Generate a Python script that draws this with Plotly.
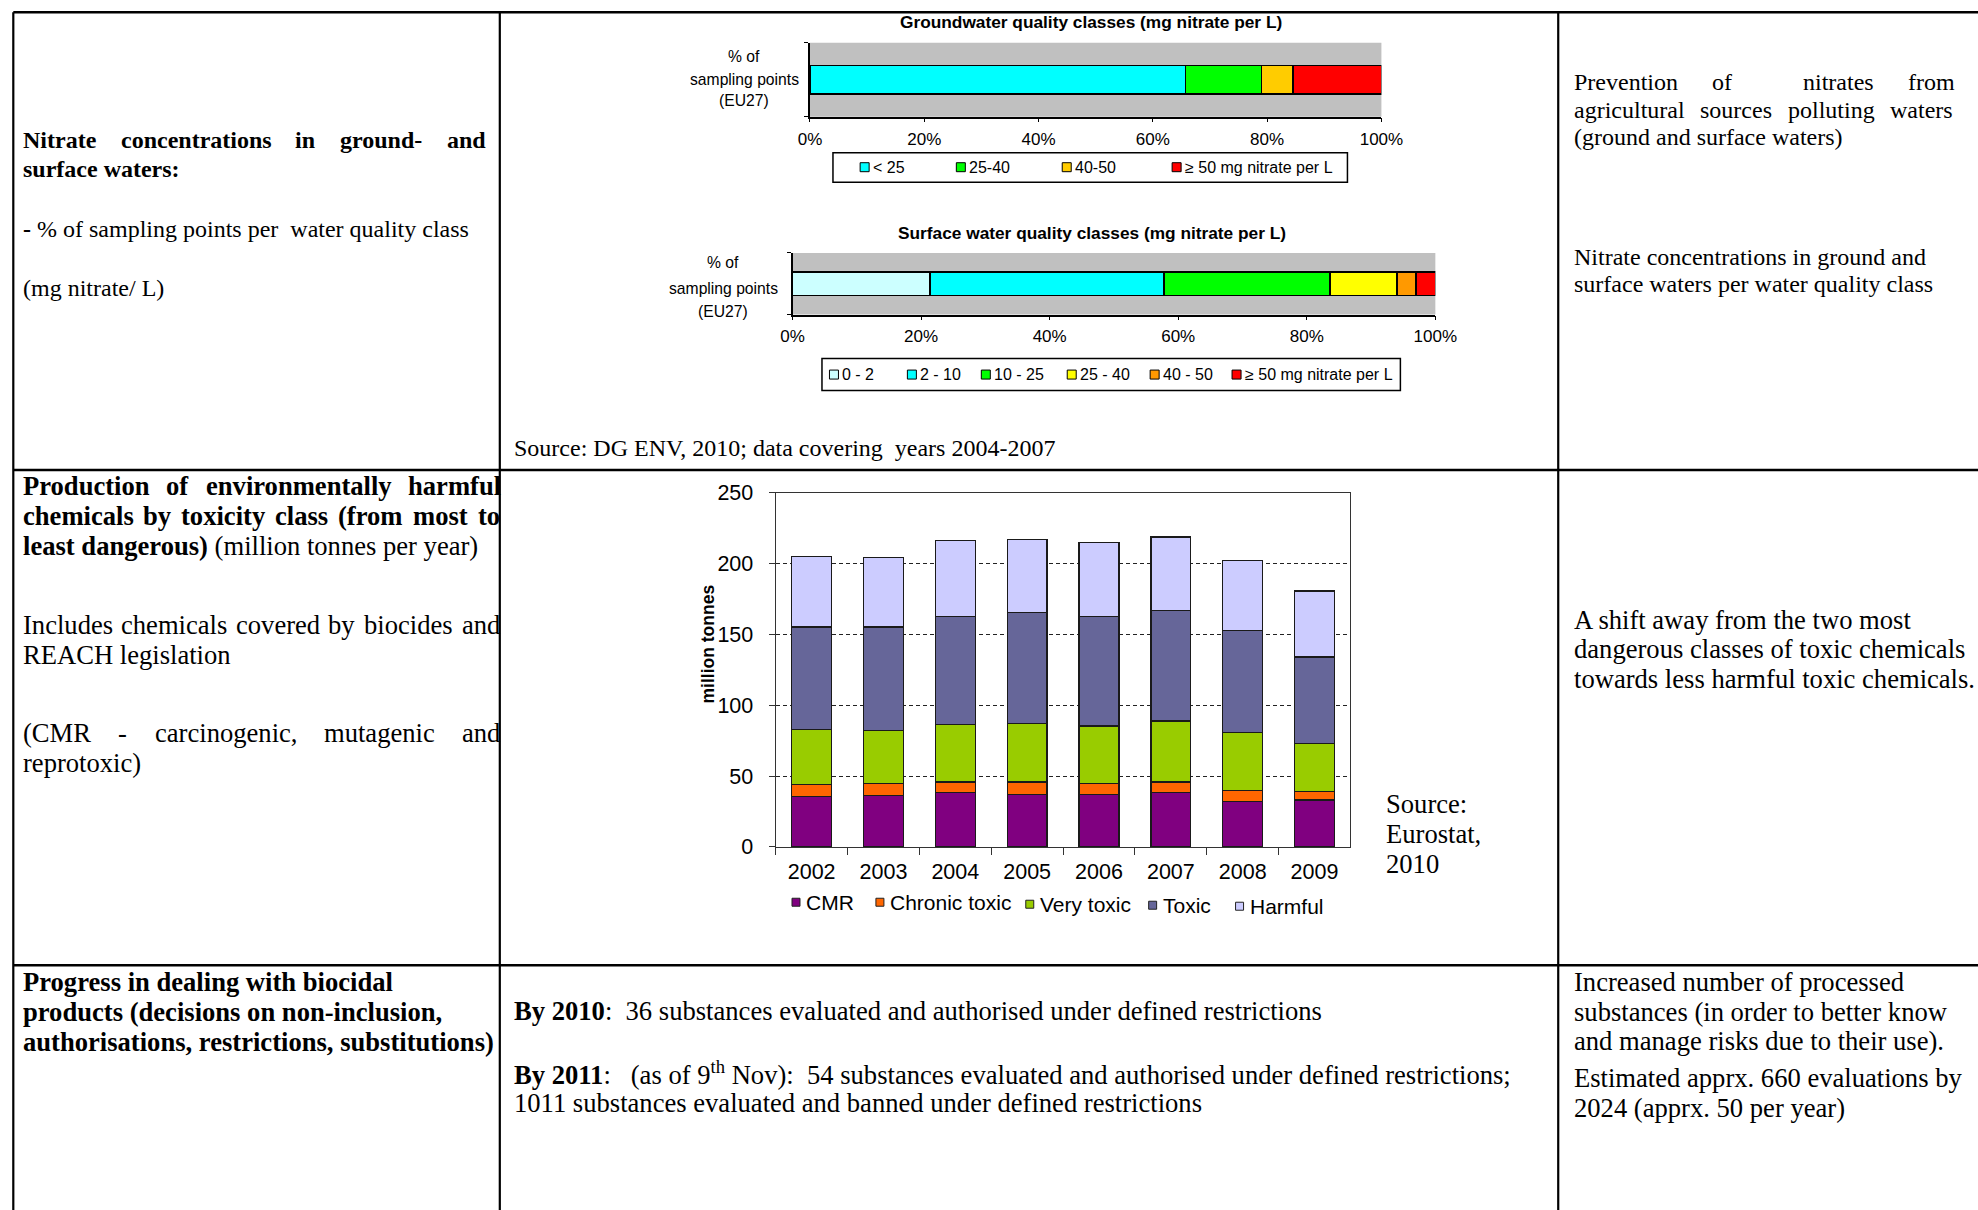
import plotly.graph_objects as go

# ---------------------------------------------------------------- data
gw_classes = ["< 25", "25-40", "40-50", "≥ 50 mg nitrate per L"]
gw_share = [65.7, 13.3, 5.5, 15.5]

sw_classes = ["0 - 2", "2 - 10", "10 - 25", "25 - 40", "40 - 50", "≥ 50 mg nitrate per L"]
sw_share = [21.4, 36.4, 25.8, 10.4, 3.0, 3.0]

pct_ticks = [0, 20, 40, 60, 80, 100]
pct_labels = ["0%", "20%", "40%", "60%", "80%", "100%"]

years = ["2002", "2003", "2004", "2005", "2006", "2007", "2008", "2009"]
tox_classes = ["CMR", "Chronic toxic", "Very toxic", "Toxic", "Harmful"]
cmr = [35.5, 36.2, 38.3, 37.2, 37.2, 38.3, 32.2, 33.2]
chronic_toxic = [8.7, 8.7, 7.6, 8.7, 7.7, 7.6, 7.5, 5.8]
very_toxic = [38.8, 37.2, 40.4, 41.4, 40.5, 43.0, 41.0, 33.9]
toxic = [72.2, 73.1, 76.4, 78.0, 77.3, 78.1, 71.9, 61.2]
harmful = [49.9, 49.2, 53.7, 51.8, 52.0, 51.7, 49.4, 46.5]
tonne_ticks = [0, 50, 100, 150, 200, 250]

# ---------------------------------------------------------------- styles
gw_colors = ["#00FFFF", "#00FF00", "#FFCC00", "#FF0000"]
sw_colors = ["#CCFFFF", "#00FFFF", "#00FF00", "#FFFF00", "#FF9900", "#FF0000"]
tox_colors = ["#800080", "#FF6600", "#99CC00", "#666699", "#CCCCFF"]

# Positions below are screen pixels of the displayed page; the figure origin
# sits slightly inside the page and is drawn at a small zoom-out.
ORIGIN_X, ORIGIN_Y = 11.2, 11.2
SCALE_X, SCALE_Y = 0.984, 0.981
W, H = 2000, 1223
SERIF = "Liberation Serif"
SANS = "Liberation Sans"
EDGE = ORIGIN_X + 1.3          # closest drawable position to the page edge


def fx(x):
    return (x - ORIGIN_X) / SCALE_X / W


def fy(y):
    return 1 - (y - ORIGIN_Y) / SCALE_Y / H


# Times metrics (1/1000 em) used to spread justified lines
ROMAN = {" ": 250, "(": 333, ")": 333, ",": 250, "-": 333, ".": 250, ":": 278, ";": 278,
         "A": 722, "C": 667, "E": 611, "H": 722, "I": 333, "M": 889, "N": 722, "P": 556,
         "R": 667, "S": 556,
         "a": 444, "b": 500, "c": 444, "d": 500, "e": 444, "f": 333, "g": 500, "h": 500,
         "i": 278, "j": 278, "k": 500, "l": 278, "m": 778, "n": 500, "o": 500, "p": 500,
         "q": 500, "r": 333, "s": 389, "t": 278, "u": 500, "v": 500, "w": 722, "x": 500,
         "y": 500, "z": 444}
BOLD = {" ": 250, "(": 333, ")": 333, ",": 250, "-": 333, ".": 250, ":": 333,
        "N": 722, "P": 611,
        "a": 500, "b": 556, "c": 444, "d": 556, "e": 444, "f": 333, "g": 500, "h": 556,
        "i": 278, "j": 333, "k": 556, "l": 278, "m": 833, "n": 556, "o": 500, "p": 556,
        "q": 556, "r": 444, "s": 389, "t": 333, "u": 556, "v": 500, "w": 722, "x": 500,
        "y": 500, "z": 444}


def word_width(word, bold, size):
    table = BOLD if bold else ROMAN
    return sum(table.get(ch, 500) for ch in word) * size / 1000.0 * SCALE_X


annotations = []
shapes = []


def text(s, x, y, size, family=SERIF, anchor="left", **kw):
    annotations.append(dict(text=s, x=fx(x), y=fy(y), xref="paper", yref="paper",
                            xanchor=anchor, yanchor="middle", showarrow=False,
                            font=dict(family=family, size=size, color="black"), **kw))


def justified(line, left, right, y, size, bold=False):
    words = line.split(" ")
    widths = [word_width(w, bold, size) for w in words]
    gap = (right - left - sum(widths)) / (len(words) - 1)
    x = left
    for w, wd in zip(words, widths):
        if w:
            text("<b>%s</b>" % w if bold else w, x, y, size)
        x += wd + gap


def rect(x0, y0, x1, y1, fill, line="black", lw=1.0):
    shapes.append(dict(type="rect", xref="paper", yref="paper", x0=fx(x0), x1=fx(x1),
                       y0=fy(y0), y1=fy(y1), fillcolor=fill,
                       line=dict(color=line, width=lw), layer="above"))


def hline(y, x0, x1, lw=2.5):
    shapes.append(dict(type="line", xref="paper", yref="paper", x0=fx(x0), x1=fx(x1),
                       y0=fy(y), y1=fy(y), line=dict(color="black", width=lw), layer="above"))


def vline(x, y0, y1, lw=2.2):
    shapes.append(dict(type="line", xref="paper", yref="paper", x0=fx(x), x1=fx(x),
                       y0=fy(y0), y1=fy(y1), line=dict(color="black", width=lw), layer="above"))


fig = go.Figure()

# ---------------------------------------------------------------- nitrate charts
for name, val, col in zip(gw_classes, gw_share, gw_colors):
    fig.add_trace(go.Bar(x=[val], y=[0], orientation="h", width=0.383, name=name,
                         marker=dict(color=col, line=dict(color="black", width=1.5)),
                         xaxis="x", yaxis="y", hoverinfo="skip"))
for name, val, col in zip(sw_classes, sw_share, sw_colors):
    fig.add_trace(go.Bar(x=[val], y=[0], orientation="h", width=0.378, name=name,
                         marker=dict(color=col, line=dict(color="black", width=1.5)),
                         xaxis="x2", yaxis="y2", hoverinfo="skip"))

# ---------------------------------------------------------------- toxicity chart
for name, vals, col in zip(tox_classes, [cmr, chronic_toxic, very_toxic, toxic, harmful], tox_colors):
    fig.add_trace(go.Bar(x=years, y=vals, width=0.556, name=name,
                         marker=dict(color=col, line=dict(color="#1a1a1a", width=1.3)),
                         xaxis="x3", yaxis="y3", hoverinfo="skip"))

pct_axis = dict(range=[0, 100], tickvals=pct_ticks, ticktext=pct_labels, ticks="outside",
                ticklen=4, tickcolor="black", showline=True, linecolor="black", linewidth=1.5,
                showgrid=False, zeroline=False,
                tickfont=dict(family=SANS, size=17, color="black"))
cat_axis = dict(range=[-0.5, 0.5], tickvals=[-0.5, 0.5], ticks="outside", ticklen=4,
                tickcolor="black", showticklabels=False, showline=True, linecolor="black",
                linewidth=1.5, showgrid=False, zeroline=False)

fig.update_layout(
    width=W, height=H, autosize=False, margin=dict(l=0, r=0, t=0, b=0, pad=0),
    paper_bgcolor="white", plot_bgcolor="white", barmode="stack", showlegend=False,
    xaxis=dict(domain=[fx(810), fx(1382)], anchor="y", ticklabelstandoff=2, **pct_axis),
    yaxis=dict(domain=[fy(117), fy(43)], anchor="x", **cat_axis),
    xaxis2=dict(domain=[fx(792.5), fx(1436)], anchor="y2", ticklabelstandoff=1, **pct_axis),
    yaxis2=dict(domain=[fy(315), fy(253.3)], anchor="x2", **cat_axis),
    xaxis3=dict(domain=[fx(775.7), fx(1351)], anchor="y3", type="category",
                range=[-0.5, 7.5], tickson="boundaries", ticks="outside", ticklen=7,
                tickcolor="#333333", showline=True, mirror=True, linecolor="#333333",
                linewidth=1.3, showgrid=False, zeroline=False, ticklabelstandoff=5,
                tickfont=dict(family=SANS, size=21.5, color="black")),
    yaxis3=dict(domain=[fy(847.7), fy(493.3)], anchor="x3", range=[0, 250],
                tickvals=tonne_ticks, ticks="outside", ticklen=6, tickcolor="#333333",
                showline=True, mirror=True, linecolor="#333333", linewidth=1.3,
                showgrid=True, gridcolor="#222222", gridwidth=1, griddash="4px,3px",
                zeroline=False, ticklabelstandoff=11,
                tickfont=dict(family=SANS, size=21.5, color="black")),
)

# grey plotting areas of the two nitrate charts
for ax in ["", "2"]:
    shapes.append(dict(type="rect", xref="x%s domain" % ax, yref="y%s domain" % ax,
                       x0=0, x1=1, y0=0, y1=1, fillcolor="#C0C0C0", line=dict(width=0),
                       layer="below"))

# chart titles and axis captions
text("<b>Groundwater quality classes (mg nitrate per L)</b>", 1091, 22.5, 17.3, SANS, "center")
text("<b>Surface water quality classes (mg nitrate per L)</b>", 1092, 233, 17.3, SANS, "center")
for cx, ys in [(744, [57, 80, 101]), (723, [263, 289, 312])]:
    for s, yy in zip(["% of", "sampling points", "(EU27)"], ys):
        text(s, cx, yy, 15.7, SANS, "center")
text("<b>million tonnes</b>", 708, 645, 17.5, SANS, "center", textangle=-90)

# hand-built legends
rect(833, 153, 1348, 182.5, "white", lw=1.5)
for name, col, cx in zip(gw_classes, gw_colors, [864.7, 961, 1067, 1177]):
    rect(cx - 4.5, 163, cx + 4.5, 172, col, lw=1)
    text(name, cx + 6, 167.5, 16, SANS)
rect(822, 359, 1401, 391, "white", lw=1.5)
for name, col, cx in zip(sw_classes, sw_colors, [834, 912, 986, 1072, 1155, 1237]):
    rect(cx - 4.5, 370.5, cx + 4.5, 379.5, col, lw=1)
    text(name, cx + 6, 375, 16, SANS)
for name, col, cx, cy in zip(tox_classes, tox_colors, [796, 880, 1030, 1153, 1240],
                             [903, 903, 905, 906, 907]):
    rect(cx - 4, cy - 4, cx + 4, cy + 4, col, line="#222222", lw=1)
    text(name, cx + 8, cy, 21, SANS)

# ---------------------------------------------------------------- table grid
for yy in [max(8.5, EDGE), 470.5, 966]:
    hline(yy, EDGE, 1990)
for xx in [max(7.5, EDGE), 499.5, 1559]:
    vline(xx, EDGE, 1225)

# ---------------------------------------------------------------- cell texts
R1, R2 = 24, 26.6
L1 = 20          # text start of the first column
M1 = 511.5       # text start of the middle column
C3 = 1573        # text start of the last column

justified("Nitrate concentrations in ground- and", L1, 483, 140.5, R1, bold=True)
text("<b>surface waters:</b>", L1, 169, R1)
text("<b>-</b> % of sampling points per  water quality class", L1, 229, R1)
text("(mg nitrate/ L)", L1, 288, R1)

text("Source: DG ENV, 2010; data covering  years 2004-2007", M1, 448, R1)

justified("Prevention of  nitrates from", C3, 1953, 82.5, R1)
justified("agricultural sources polluting waters", C3, 1951, 110, R1)
text("(ground and surface waters)", C3, 137, R1)
text("Nitrate concentrations in ground and", C3, 257, R1)
text("surface waters per water quality class", C3, 284, R1)

justified("Production of environmentally harmful", L1, 497, 487, R2, bold=True)
justified("chemicals by toxicity class (from most to", L1, 497, 517, R2, bold=True)
text("<b>least dangerous)</b> (million tonnes per year)", L1, 547, R2)
justified("Includes chemicals covered by biocides and", L1, 497, 626, R2)
text("REACH legislation", L1, 656, R2)
justified("(CMR  -  carcinogenic,  mutagenic  and", L1, 497, 734, R2)
text("reprotoxic)", L1, 764, R2)

text("Source:", 1385, 805, R2)
text("Eurostat,", 1385, 835, R2)
text("2010", 1385, 865, R2)

text("A shift away from the two most", C3, 621, R2)
text("dangerous classes of toxic chemicals", C3, 650, R2)
text("towards less harmful toxic chemicals.", C3, 680, R2)

text("<b>Progress in dealing with biocidal</b>", L1, 983, R2)
text("<b>products (decisions on non-inclusion,</b>", L1, 1013, R2)
text("<b>authorisations, restrictions, substitutions)</b>", L1, 1043, R2)

text("<b>By 2010</b>:  36 substances evaluated and authorised under defined restrictions",
     M1, 1012, R2)
text("<b>By 2011</b>:   (as of 9<sup>th</sup> Nov):  54 substances evaluated and authorised "
     "under defined restrictions;", M1, 1074, R2)
text("1011 substances evaluated and banned under defined restrictions", M1, 1104, R2)

text("Increased number of processed", C3, 983, R2)
text("substances (in order to better know", C3, 1013, R2)
text("and manage risks due to their use).", C3, 1042, R2)
text("Estimated apprx. 660 evaluations by", C3, 1079, R2)
text("2024 (apprx. 50 per year)", C3, 1109, R2)

fig.update_layout(annotations=annotations, shapes=shapes)
fig.write_html("out.html")
